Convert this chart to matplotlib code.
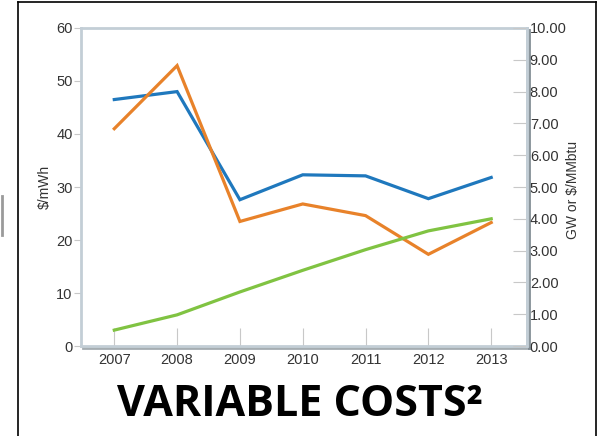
import matplotlib.pyplot as plt
import matplotlib.patheffects as pe
from matplotlib.lines import Line2D

years = [2007, 2008, 2009, 2010, 2011, 2012, 2013]
blue_cost = [46.5, 48.0, 27.6, 32.3, 32.1, 27.8, 31.8]      # $/mWh
orange_cost = [41.0, 52.9, 23.5, 26.8, 24.6, 17.3, 23.3]    # $/mWh
green_gw = [0.50, 0.98, 1.70, 2.38, 3.03, 3.62, 4.00]       # GW or $/MMbtu

left_ticks = [0, 10, 20, 30, 40, 50, 60]
right_ticks = [0, 1, 2, 3, 4, 5, 6, 7, 8, 9, 10]

plt.rcParams['font.family'] = ['Liberation Sans', 'DejaVu Sans']

fig = plt.figure(figsize=(5.99, 4.36), dpi=100)
ax = fig.add_axes([0.1352, 0.2064, 0.7446, 0.7294])
ax2 = ax.twinx()

spine_col = "#c3ced6"
tick_col = "#c8c8c8"
text_col = "#333333"
lab_size = 10.5

ax.plot(years, blue_cost, color="#1f78bd", lw=2.3, solid_joinstyle="miter", zorder=3)
ax.plot(years, orange_cost, color="#e8822a", lw=2.3, solid_joinstyle="miter", zorder=4)
ax2.plot(years, green_gw, color="#80c342", lw=2.3, zorder=3)

ax.set_xlim(2006.47, 2013.57)
ax.set_ylim(0, 60)
ax2.set_ylim(0, 10)
ax.set_xticks(years)
ax.set_yticks(left_ticks)
ax2.set_yticks(right_ticks)
ax2.set_yticklabels([f"{v:.2f}" for v in right_ticks])

ax.tick_params(axis="y", direction="out", length=5, width=0.8, color=tick_col,
               labelsize=lab_size, labelcolor=text_col, pad=1)
ax.tick_params(axis="x", direction="in", length=13, width=0.8, color=tick_col,
               labelsize=lab_size, labelcolor=text_col, pad=5)
ax2.tick_params(axis="y", direction="in", length=10, width=0.8, color=tick_col,
                labelsize=lab_size, labelcolor=text_col, pad=2)

shadow = [pe.SimpleLineShadow(offset=(1.2, -1.2), shadow_color="#7f8a91", alpha=0.7), pe.Normal()]
for a in (ax, ax2):
    for side in ("left", "right", "top", "bottom"):
        sp = a.spines[side]
        sp.set_color(spine_col)
        sp.set_linewidth(2.0)
    a.spines["bottom"].set_path_effects(shadow)
    a.spines["right"].set_path_effects(shadow)
ax2.spines["left"].set_visible(False)
ax2.spines["bottom"].set_visible(False)
ax2.spines["top"].set_visible(False)

ax.set_ylabel("$/mWh", fontsize=10, color=text_col)
ax2.set_ylabel("GW or $/MMbtu", fontsize=10, color=text_col)
ax.yaxis.set_label_coords(-0.066, 0.5)
ax2.yaxis.set_label_coords(1.088, 0.49)

# slide title under the chart
fig.text(0.5, 0.072, "VARIABLE COSTS²", ha="center", va="center",
         fontsize=31, fontweight="bold", family=["Open Sans", "DejaVu Sans"])

# slide frame lines
frame_kw = dict(color="black", lw=1.2, transform=fig.transFigure)
fig.add_artist(Line2D([18 / 599, 18 / 599], [0, 1 - 2 / 436], **frame_kw))
fig.add_artist(Line2D([18 / 599, 596 / 599], [1 - 2 / 436, 1 - 2 / 436], **frame_kw))
fig.add_artist(Line2D([596 / 599, 596 / 599], [0, 1 - 2 / 436], **frame_kw))
fig.add_artist(Line2D([2 / 599, 2 / 599], [1 - 196 / 436, 1 - 235 / 436],
                      color="#9a9a9a", lw=2.0, transform=fig.transFigure))

fig.savefig("out.png", dpi=100)
